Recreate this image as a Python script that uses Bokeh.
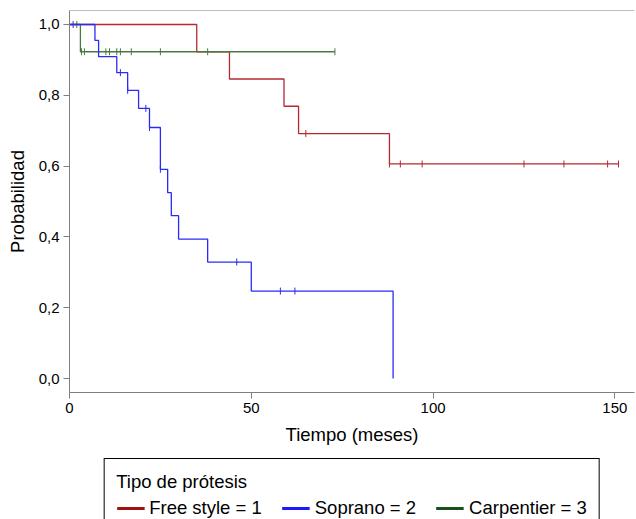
import math
from bokeh.plotting import figure
from bokeh.layouts import column
from bokeh.models import (Range1d, FixedTicker, CustomJSTickFormatter, Legend,
                          LegendItem, Span)
from bokeh.embed import file_html
from bokeh.resources import INLINE

# ---- data (Kaplan-Meier step curves) ----
groups = ["Free style = 1", "Soprano = 2", "Carpentier = 3"]

free_t = [0, 35, 44, 59, 63, 88, 151]
free_s = [1.0, 0.923, 0.846, 0.769, 0.692, 0.606, 0.606]
free_cens = [65, 88, 91, 97, 125, 136, 148, 151]

sop_t = [0, 7, 8, 13, 16, 19, 22, 25, 27, 28, 30, 38, 50, 89]
sop_s = [1.0, 0.955, 0.909, 0.864, 0.814, 0.763, 0.709, 0.591, 0.525, 0.460,
         0.394, 0.329, 0.247, 0.0]
sop_cens = [1, 14, 16, 21, 22, 25, 46, 58, 62]

carp_t = [0, 3, 73]
carp_s = [1.0, 0.923, 0.923]
carp_cens = [2, 3.3, 4.1, 10, 11, 13, 14, 17, 25, 38, 73]

x_ticks = [0, 50, 100, 150]
y_ticks = [0.0, 0.2, 0.4, 0.6, 0.8, 1.0]

line_colors = ["#B42A30", "#2B2BF8", "#4A7A40"]
legend_colors = ["#A01212", "#1A1AFF", "#1B4E1B"]

Y_TOP = 1.0395


def surv_at(ts, ss, t):
    v = ss[0]
    for ti, si in zip(ts, ss):
        if ti <= t:
            v = si
    return v


FONT = "Liberation Sans"

p = figure(width=636, height=455, output_backend="svg", toolbar_location=None,
           x_range=Range1d(0, 155.4), y_range=Range1d(-0.0395, Y_TOP),
           min_border_left=69, min_border_top=10, min_border_right=2,
           min_border_bottom=63)
p.outline_line_color = None
p.xgrid.visible = False
p.ygrid.visible = False
p.background_fill_color = "white"
p.border_fill_color = "white"

# top frame line
p.add_layout(Span(location=Y_TOP, dimension="width", line_color="#7f7f7f",
                  line_width=1))

series = [(free_t, free_s, free_cens), (carp_t, carp_s, carp_cens),
          (sop_t, sop_s, sop_cens)]
cols = [line_colors[0], line_colors[2], line_colors[1]]
for (ts, ss, cens), c in zip(series, cols):
    p.step(ts, ss, mode="after", line_color=c, line_width=1.3)
    p.scatter(cens, [surv_at(ts, ss, t) for t in cens], marker="dash",
              angle=math.pi / 2, size=7, line_color=c, line_width=1)

xax = p.below[0]
yax = p.left[0]
for ax in (xax, yax):
    ax.axis_line_color = "#7f7f7f"
    ax.major_tick_line_color = "#7f7f7f"
    ax.minor_tick_line_color = None
    ax.major_tick_out = 6
    ax.major_tick_in = 0
    ax.major_label_text_font = FONT
    ax.major_label_text_font_size = "15px"
    ax.major_label_text_color = "black"
    ax.axis_label_text_font = FONT
    ax.axis_label_text_font_size = "18.5px"
    ax.axis_label_text_font_style = "normal"
    ax.axis_label_text_color = "black"
    ax.major_label_standoff = 4

xax.ticker = FixedTicker(ticks=x_ticks)
yax.ticker = FixedTicker(ticks=y_ticks)
yax.formatter = CustomJSTickFormatter(
    code="return tick.toFixed(1).replace('.', ',');")
xax.axis_label = "Tiempo (meses)"
yax.axis_label = "Probabilidad"
xax.axis_label_standoff = 8
yax.axis_label_standoff = 8

# ---- legend in its own strip below the plot ----
lg = figure(width=636, height=64, output_backend="svg", toolbar_location=None,
            x_range=Range1d(0, 1), y_range=Range1d(0, 1),
            min_border_left=69, min_border_right=2, min_border_top=0,
            min_border_bottom=0)
lg.axis.visible = False
lg.xgrid.visible = False
lg.ygrid.visible = False
lg.outline_line_color = None
lg.background_fill_color = "white"
lg.border_fill_color = "white"

items = []
for g, c in zip(groups, legend_colors):
    r = lg.line([-20, -10], [-5, -5], line_color=c, line_width=3)
    items.append(LegendItem(label=g, renderers=[r]))

legend = Legend(items=items, orientation="horizontal", title="Tipo de prótesis",
                location="top_center", border_line_color="black",
                border_line_alpha=1.0, border_line_width=1,
                background_fill_alpha=1.0, padding=12, margin=3, spacing=20,
                glyph_width=28, glyph_height=20, label_standoff=5,
                label_text_font=FONT, label_text_font_size="18.5px",
                label_text_color="black", title_text_color="black",
                title_text_font=FONT, title_text_font_size="18.5px",
                title_text_font_style="normal", title_standoff=4)
lg.add_layout(legend, "center")

layout = column(p, lg, spacing=0)
open("out.html", "w").write(file_html(layout, INLINE))
